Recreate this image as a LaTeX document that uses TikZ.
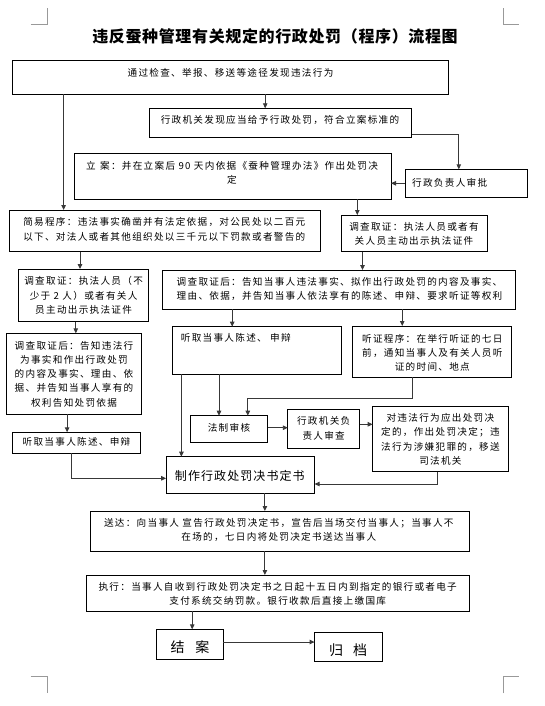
\documentclass[tikz,border=0pt]{standalone}
\usepackage{fontspec}
\newfontfamily\cjkA[LetterSpace=13.5]{Noto Sans CJK SC}
\newfontfamily\cjkB[LetterSpace=9]{Noto Sans CJK SC}
\newfontfamily\cjkT[LetterSpace=4]{Noto Sans CJK SC}
\newfontfamily\cjkN{Noto Sans CJK SC}
\usetikzlibrary{arrows.meta,fit}
\tikzset{
  box/.style={draw=black, line width=0.9bp, inner sep=0pt, outer sep=0pt},
  txt/.style={inner sep=0pt, align=center, text=black, font=\cjkA\fontsize{9.6bp}{14.3bp}\selectfont},
  ltxt/.style={txt, align=left},
  con/.style={draw=black!78, line width=0.9bp},
  arr/.style={con, -{Triangle[length=5bp,width=4.5bp]}},
  corner/.style={draw=black!40, line width=0.6bp}
}
\begin{document}
\begin{tikzpicture}[x=1bp,y=-1bp]
\useasboundingbox (0,0) rectangle (545,706);
% page corner marks
\draw[corner] (30.6,24) -- (47.6,24) -- (47.6,8.3);
\draw[corner] (503,8.3) -- (503,24) -- (518.6,24);
\draw[corner] (30.6,676.7) -- (47.6,676.7) -- (47.6,693.3);
\draw[corner] (503,693.3) -- (503,676.7) -- (518.6,676.7);
% title
\node[inner sep=0pt, font=\cjkT\bfseries\fontsize{16bp}{18bp}\selectfont] (title) at (275,36.5) {违反蚕种管理有关规定的行政处罚（程序）流程图};
% boxes
\node[box, fit={(12.5,60.7) (448.4,94.3)}] (b1) {};
\node[box, fit={(149.5,108.3) (411.9,137.3)}] (b2) {};
\node[box, fit={(74.7,153.3) (391,199.3)}] (b3) {};
\node[box, fit={(405,169.3) (527.3,197.3)}] (b4) {};
\node[box, fit={(9.4,210) (320.5,251.7)}] (bs) {};
\node[box, fit={(341.7,215) (487.3,251.7)}] (rinv) {};
\node[box, fit={(18.4,269) (148.8,321.7)}] (L2) {};
\node[box, fit={(162.3,270) (515.1,309.3)}] (R3) {};
\node[box, fit={(6.3,333.3) (141.8,414.3)}] (L3) {};
\node[box, fit={(172.7,326.7) (341.3,374)}] (mid) {};
\node[box, fit={(352.8,326) (511.6,377.3)}] (hear) {};
\node[box, fit={(190.5,415.7) (267.6,442.3)}] (fz) {};
\node[box, fit={(287.8,409.3) (359.7,448.3)}] (rev) {};
\node[box, fit={(372.6,406.7) (508.2,471.7)}] (dec) {};
\node[box, fit={(12.2,432.3) (140.8,453.3)}] (L4) {};
\node[box, fit={(166.1,456.7) (314.6,493.3)}] (make) {};
\node[box, fit={(90.4,511) (469.2,551)}] (sd) {};
\node[box, fit={(86.2,575) (469.2,611)}] (ex) {};
\node[box, fit={(156.4,629.3) (223.1,659.3)}] (ja) {};
\node[box, fit={(314.6,632.7) (382.3,661.7)}] (gd) {};
% texts
\node[txt] (b1t) at (230.5,72.7) {通过检查、举报、移送等途径发现违法行为};
\node[txt] (b2t) at (280,120) {行政机关发现应当给予行政处罚，符合立案标准的};
\node[txt] (b3t) at (232,172.8) {立\hspace{4.5bp}案：并在立案后 90 天内依据《蚕种管理办法》作出处罚决\\定};
\node[txt, anchor=west] (b4t) at (412,182.7) {行政负责人审批};
\node[ltxt] (bst) at (164.3,229.3) {简易程序：违法事实确凿并有法定依据，对公民处以二百元\\以下、对法人或者其他组织处以三千元以下罚款或者警告的};
\node[txt] (rinvt) at (414,234.2) {调查取证：执法人员或者有\\关人员主动出示执法证件};
\node[txt] (L2t) at (83.6,295.5) {调查取证：执法人员（不\\少于 2 人）或者有关人\\员主动出示执法证件};
\node[ltxt] (R3t) at (339.5,288.7) {调查取证后：告知当事人违法事实、拟作出行政处罚的内容及事实、\\理由、依据，并告知当事人依法享有的陈述、申辩、要求听证等权利};
\node[txt] (L3t) at (74,374) {调查取证后：告知违法行\\为事实和作出行政处罚\\的内容及事实、理由、依\\据、并告知当事人享有的\\权利告知处罚依据};
\node[txt, anchor=west] (midt) at (180.7,338.3) {听取当事人陈述、 申辩};
\node[txt] (heart) at (432.3,352.8) {听证程序：在举行听证的七日\\前，通知当事人及有关人员听\\证的时间、地点};
\node[txt] (fzt) at (229,427.5) {法制审核};
\node[txt] (revt) at (323.7,428.3) {行政机关负\\责人审查};
\node[txt] (dect) at (440.4,439.3) {对违法行为应出处罚决\\定的，作出处罚决定；违\\法行为涉嫌犯罪的，移送\\司法机关};
\node[txt] (L4t) at (76.5,442.3) {听取当事人陈述、申辩};
\node[txt, font=\cjkB\fontsize{12bp}{14bp}\selectfont] (maket) at (239.8,475.5) {制作行政处罚决书定书};
\node[txt] (sdt) at (278.8,530.2) {送达：向当事人 宣告行政处罚决定书，宣告后当场交付当事人；当事人不\\在场的，七日内将处罚决定书送达当事人};
\node[txt] (ext) at (277.7,593.8) {执行：当事人自收到行政处罚决定书之日起十五日内到指定的银行或者电子\\支付系统交纳罚款。银行收款后直接上缴国库};
\node[txt, font=\cjkN\fontsize{14bp}{16bp}\selectfont] (jat) at (190,647.5) {结\hspace{11bp}案};
\node[txt, font=\cjkN\fontsize{14bp}{16bp}\selectfont] (gdt) at (348,650.5) {归\hspace{10bp}档};
% connectors
\draw[arr] (b1.south -| 63.6,0) -- (bs.north -| 63.6,0);
\draw[arr] (b1.south -| 265.2,0) -- (b2.north -| 265.2,0);
\draw[arr] (b2.east |- 0,134.3) -| (b4.north -| 458.8,0);
\draw[arr] (b4.west) -- (b3.east |- b4.west);
\draw[arr] (b3.south -| 357.3,0) -- (rinv.north -| 357.3,0);
\draw[arr] (bs.south -| 80,0) -- (L2.north -| 80,0);
\draw[arr] (rinv.south -| 362.5,0) -- (R3.north -| 362.5,0);
\draw[arr] (R3.south -| 232.2,0) -- (mid.north -| 232.2,0);
\draw[arr] (R3.south -| 402.2,0) -- (hear.north -| 402.2,0);
\draw[arr] (L2.south -| 75.8,0) -- (L3.north -| 75.8,0);
\draw[arr] (L3.south -| 67.1,0) -- (L4.north -| 67.1,0);
\draw[arr] (mid.south -| 181.4,0) -- (make.north -| 181.4,0);
\draw[arr] (mid.south -| 219,0) -- (fz.north -| 219,0);
\draw[arr] (hear.south -| 412.6,0) -- ++(0,21) -| (fz.north -| 247.8,0);
\draw[arr] (fz.east |- 0,427.7) -- (rev.west |- 0,427.7);
\draw[arr] (rev.east |- 0,424.3) -- (dec.west |- 0,424.3);
\draw[arr] (dec.south -| 437.3,0) |- (make.east |- 0,484);
\draw[arr] (L4.south -| 71.3,0) |- (make.west |- 0,478.3);
\draw[arr] (make.south -| 264.9,0) -- (sd.north -| 264.9,0);
\draw[arr] (sd.south -| 264.9,0) -- (ex.north -| 264.9,0);
\draw[arr] (ex.south -| 192.2,0) -- (ja.north -| 192.2,0);
\draw[arr] (ja.east |- 0,642) -- (gd.west |- 0,642);
\end{tikzpicture}
\end{document}
